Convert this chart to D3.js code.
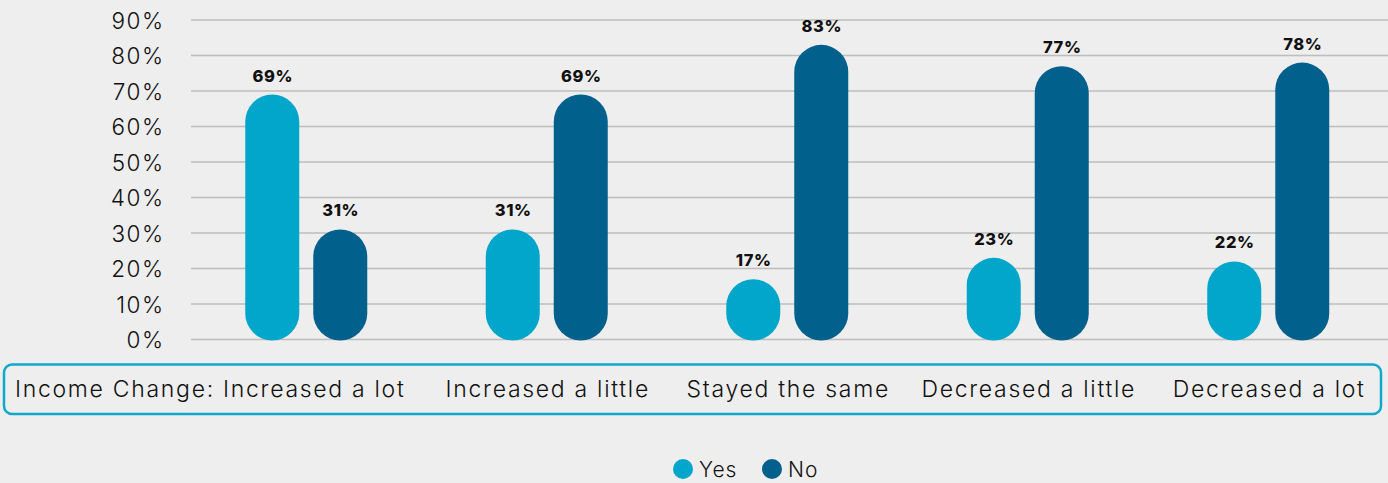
<!DOCTYPE html>
<html>
<head>
<meta charset="utf-8">
<script src="https://cdn.jsdelivr.net/npm/d3@7"></script>
<style>
  html, body { margin: 0; padding: 0; background: #eeeeee; }
  svg { display: block; }
  text { font-family: Inter, Lato, sans-serif; fill: #111; }
</style>
</head>
<body>
<svg id="chart" width="1388" height="483"></svg>
<script>
// Survey answer share by income change
const categories = ["Increased a lot", "Increased a little", "Stayed the same", "Decreased a little", "Decreased a lot"];
const categoryLabels = ["Income Change: Increased a lot", "Increased a little", "Stayed the same", "Decreased a little", "Decreased a lot"];
const seriesNames = ["Yes", "No"];
const yesValues = [69, 31, 17, 23, 22];
const noValues = [31, 69, 83, 77, 78];
const yTicks = [0, 10, 20, 30, 40, 50, 60, 70, 80, 90];

const colors = { Yes: "#01a6ca", No: "#02618c" };

const svg = d3.select("#chart");
const W = 1388, H = 483;

const x = d3.scaleBand().domain(categories).range([186, 1388.5]);
const xInner = d3.scaleBand().domain(seriesNames).range([0, 122]).paddingInner(14 / 68);
const y = d3.scaleLinear().domain([0, 90]).range([339.5, 20]);

// gridlines
svg.append("g")
  .selectAll("line")
  .data(yTicks)
  .join("line")
  .attr("x1", 191).attr("x2", W)
  .attr("y1", d => y(d)).attr("y2", d => y(d))
  .attr("stroke", "#bdbdbd").attr("stroke-width", 1.5);

// y axis labels
const yAxis = d3.axisLeft(y).tickValues(yTicks).tickFormat(d => d + "%").tickSize(0).tickPadding(0);
const gy = svg.append("g").attr("transform", "translate(164.5,0)").call(yAxis);
gy.select(".domain").remove();
gy.selectAll("text")
  .style("font-family", "Inter, sans-serif")
  .style("font-size", "22.5px")
  .style("font-weight", "300")
  .style("letter-spacing", "1.5px")
  .attr("fill", "#111")
  .attr("dy", "0.36em");

const rows = categories.map((c, i) => ({ cat: c, values: [
  { key: "Yes", v: yesValues[i] }, { key: "No", v: noValues[i] }
]}));

const groups = svg.append("g").selectAll("g")
  .data(rows)
  .join("g")
  .attr("transform", d => `translate(${x(d.cat) + x.bandwidth() / 2 - 61},0)`);

const bw = xInner.bandwidth();
groups.selectAll("rect")
  .data(d => d.values)
  .join("rect")
  .attr("x", d => xInner(d.key))
  .attr("width", bw)
  .attr("y", d => y(d.v))
  .attr("height", d => y(0) - y(d.v) + 1)
  .attr("rx", bw / 2).attr("ry", bw / 2)
  .attr("fill", d => colors[d.key]);

groups.selectAll("text.val")
  .data(d => d.values)
  .join("text")
  .attr("class", "val")
  .attr("x", d => xInner(d.key) + bw / 2 + 0.5)
  .attr("y", d => y(d.v) - 13)
  .attr("text-anchor", "middle")
  .style("font-size", "16.5px")
  .style("font-weight", "800")
  .style("letter-spacing", "0.6px")
  .text(d => d.v + "%");

// category box
svg.append("rect")
  .attr("x", 4).attr("y", 364.5)
  .attr("width", 1377).attr("height", 49.5)
  .attr("rx", 8)
  .attr("fill", "none")
  .attr("stroke", "#10a8cb").attr("stroke-width", 2.5);

svg.append("g").selectAll("text")
  .data(categories)
  .join("text")
  .attr("x", (d, i) => i === 0 ? 15 : x(d) + x.bandwidth() / 2 + 1)
  .attr("y", 397)
  .attr("text-anchor", (d, i) => i === 0 ? "start" : "middle")
  .style("font-size", "23px")
  .style("font-weight", "300")
  .style("letter-spacing", "1.7px")
  .text((d, i) => categoryLabels[i]);

// legend
const legend = svg.append("g");
const legendItems = [{ key: "Yes", cx: 683, tx: 699 }, { key: "No", cx: 772, tx: 788 }];
legend.selectAll("circle")
  .data(legendItems)
  .join("circle")
  .attr("cx", d => d.cx).attr("cy", 469).attr("r", 10)
  .attr("fill", d => colors[d.key]);
legend.selectAll("text")
  .data(legendItems)
  .join("text")
  .attr("x", d => d.tx).attr("y", 477)
  .style("font-size", "21px")
  .style("font-weight", "300")
  .style("letter-spacing", "1px")
  .text(d => d.key);
</script>
</body>
</html>
